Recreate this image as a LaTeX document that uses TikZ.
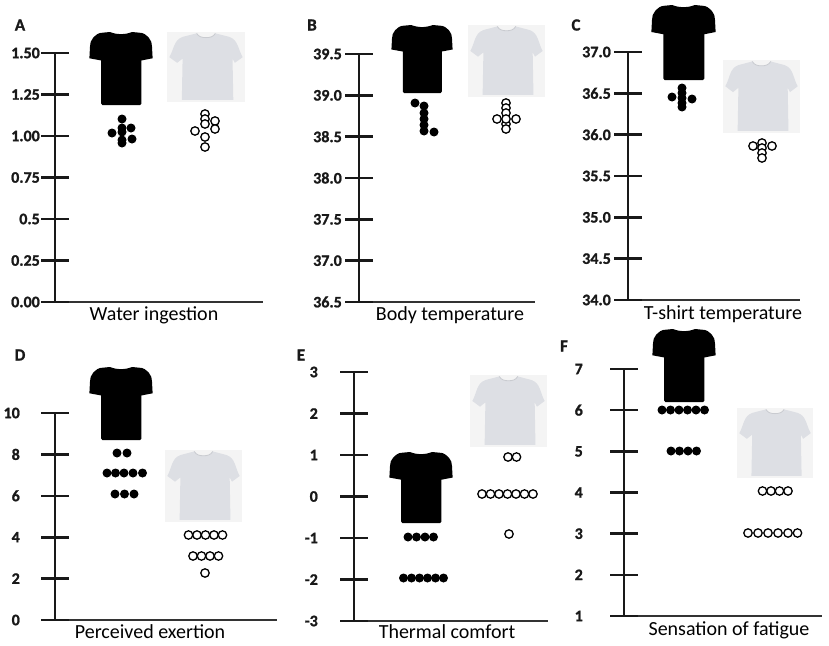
\documentclass[tikz,border=0pt]{standalone}
\usepackage{fontspec}
\setmainfont{Carlito}
\newfontfamily\heavyfont{Carlito}[UprightFont={* Bold},FakeBold=1.2]
\usepackage{tikz}
\usetikzlibrary{positioning}
\definecolor{shirtgrey}{HTML}{DDDFE4}
\definecolor{photobg}{HTML}{F4F4F4}
\definecolor{collar}{HTML}{C9CBD0}
\tikzset{axis line/.style={line width=2.6pt,black!90},
  base line/.style={line width=1.4pt,black!80},
  tick label/.style={font=\fontsize{16}{16}\heavyfont,anchor=east,inner sep=0pt,text=black!90},
  panel letter/.style={font=\fontsize{17}{17}\heavyfont,inner sep=0pt,text=black!90},
  axis title/.style={font=\fontsize{20}{20}\selectfont,inner sep=0pt},
  full dot/.style={fill=black},
  open dot/.style={draw=black,fill=white,line width=1.3pt},}

% #1 axis x, #2 top, #3 bottom, #4 tick step, #5 end of base line, #6 label x, #7 labels, #8 name
\newcommand{\panelaxis}[8]{%
  \draw[axis line] (#1,#2) -- (#1,#3);
  \draw[base line] (#1-14,#3) -- (#5,#3);
  \foreach \lab [count=\i from 0] in {#7} {
    \draw[axis line] (#1-14,#2+\i*#4) -- (#1+14,#2+\i*#4);
    \node[tick label] (#8-\i) at (#6,#2+\i*#4) {\lab};
  }}

% black shirt in box x, y, width, height
\newcommand{\blackshirt}[4]{%
  \begin{scope}[shift={(#1,#2)},x=#3pt,y=-#4pt]
    \fill[black] (0.32,0) to[out=-20,in=-160] (0.68,0) -- (0.8,0.01) to[out=0,in=135] (0.95,0.08)
      to[out=-45,in=95] (1,0.2) -- (1.01,0.36) -- (0.83,0.39) -- (0.83,0.98) to[out=-90,in=0] (0.81,1)
      -- (0.2,1) to[out=180,in=-90] (0.18,0.98) -- (0.18,0.39) -- (-0.01,0.36) -- (0,0.2)
      to[out=85,in=-135] (0.05,0.08) to[out=45,in=180] (0.2,0.01) -- (0.32,0) -- cycle;
  \end{scope}}

% white shirt photo in box x, y, width, height
\newcommand{\whiteshirt}[4]{%
  \begin{scope}[shift={(#1,#2)},x=#3pt,y=-#4pt]
    \fill[photobg] (0,0) rectangle (1,1);
    \fill[shirtgrey] (0.38,0.02) to[out=-60,in=180] (0.5,0.08) to[out=0,in=-120] (0.62,0.02)
      -- (0.8,0.07) to[out=-20,in=120] (0.97,0.36) -- (0.87,0.44) -- (0.84,0.38) -- (0.85,0.97) -- (0.19,0.97)
      -- (0.2,0.38) -- (0.13,0.44) -- (0.03,0.36) to[out=60,in=-160] (0.2,0.07) -- cycle;
    \draw[collar,line width=0.8pt] (0.38,0.02) to[out=-60,in=180] (0.5,0.08) to[out=0,in=-120] (0.62,0.02);
  \end{scope}}

\begin{document}
\begin{tikzpicture}[x=1pt,y=-1pt]
\useasboundingbox (0,0) rectangle (829,645);

% A
\node[panel letter] (lA) at (20,25) {A};
\panelaxis{55}{53}{302}{41.5}{263}{40}{1.50,1.25,1.00,0.75,0.5,0.25,0.00}{tA}
\node[axis title] (xA) at (154,315) {Water ingestion};
\blackshirt{90}{32}{62}{73}
\whiteshirt{167}{32}{78}{70}
\foreach \y in {119,128,132,140,143} \fill[full dot] (122,\y) circle[radius=4.5pt];
\fill[full dot] (112,133) circle[radius=4.5pt] (131,128) circle[radius=4.5pt] (132,139) circle[radius=4.5pt];
\foreach \p in {(205,114),(205,119),(215,121),(205,124),(195,131),(215,129),(205,137),(205,147)}
  \draw[open dot] \p circle[radius=4.2pt];

% B
\node[panel letter] (lB) at (312,25) {B};
\panelaxis{359}{54}{302}{41.33}{535}{342}{39.5,39.0,38.5,38.0,37.5,37.0,36.5}{tB}
\node[axis title] (xB) at (450,315) {Body temperature};
\blackshirt{392}{25}{60}{68}
\whiteshirt{468}{25}{77}{72}
\foreach \y in {106,113,119,125,131} \fill[full dot] (424,\y) circle[radius=4.5pt];
\fill[full dot] (415,103) circle[radius=4.5pt] (434,132) circle[radius=4.5pt];
\foreach \p in {(506,103),(506,108),(506,113),(506,124),(506,129),(497,119),(516,119),(506,119)}
  \draw[open dot] \p circle[radius=4.2pt];

% C
\node[panel letter] (lC) at (576,25) {C};
\panelaxis{628}{52}{300}{41.33}{800}{611}{37.0,36.5,36.0,35.5,35.0,34.5,34.0}{tC}
\node[axis title] (xC) at (723,314) {T-shirt temperature};
\blackshirt{652}{5}{63}{75}
\whiteshirt{723}{60}{77}{73}
\foreach \y in {88,93,98,103,107} \fill[full dot] (682,\y) circle[radius=4.5pt];
\fill[full dot] (672,97) circle[radius=4.5pt] (692,99) circle[radius=4.5pt];
\foreach \p in {(762,143),(762,148),(762,153),(762,158),(753,146),(772,146)}
  \draw[open dot] \p circle[radius=4.2pt];

% D
\node[panel letter] (lD) at (20,355) {D};
\panelaxis{55}{413}{620}{41.4}{277}{20}{10,8,6,4,2,0}{tD}
\node[axis title] (xD) at (150,632) {Perceived exertion};
\blackshirt{90}{367}{62}{73}
\whiteshirt{165}{450}{77}{72}
\foreach \x in {117,127} \fill[full dot] (\x,453) circle[radius=4.5pt];
\foreach \x in {107,115.5,124,133,142.5} \fill[full dot] (\x,473) circle[radius=4.5pt];
\foreach \x in {115,124.5,134} \fill[full dot] (\x,494) circle[radius=4.5pt];
\foreach \x in {188.5,197,205.5,214,222.5} \draw[open dot] (\x,535) circle[radius=4.2pt];
\foreach \x in {193,201.5,210,218.5} \draw[open dot] (\x,556) circle[radius=4.2pt];
\draw[open dot] (205,573) circle[radius=4.2pt];

% E
\node[panel letter] (lE) at (301,355) {E};
\panelaxis{354}{372}{621}{41.5}{548}{318}{3,2,1,0,-1,-2,-3}{tE}
\node[axis title] (xE) at (447,632) {Thermal comfort};
\blackshirt{390}{452}{62}{71}
\whiteshirt{470}{375}{77}{72}
\foreach \x in {408,416.5,425,433.5} \fill[full dot] (\x,537) circle[radius=4.5pt];
\foreach \x in {403.5,411.5,419.5,427.5,435.5,443.5} \fill[full dot] (\x,578) circle[radius=4.5pt];
\foreach \x in {508,516.5} \draw[open dot] (\x,457) circle[radius=4.2pt];
\foreach \x in {482,490.5,499,507.5,516,524.5,533} \draw[open dot] (\x,494) circle[radius=4.2pt];
\draw[open dot] (509,534) circle[radius=4.2pt];

% F
\node[panel letter] (lF) at (564,346) {F};
\panelaxis{624}{369}{616}{41.17}{822}{583}{7,6,5,4,3,2,1}{tF}
\node[axis title] (xF) at (729,630) {Sensation of fatigue};
\blackshirt{653}{329}{62}{73}
\whiteshirt{737}{408}{76}{70}
\foreach \x in {662,670.5,679,687.5,696,704.5} \fill[full dot] (\x,410) circle[radius=4.5pt];
\foreach \x in {671,679.5,688,696.5} \fill[full dot] (\x,451) circle[radius=4.5pt];
\foreach \x in {762.5,771,779.5,788} \draw[open dot] (\x,491) circle[radius=4.2pt];
\foreach \x in {748,758,768,778,788,797.5} \draw[open dot] (\x,533) circle[radius=4.2pt];
\end{tikzpicture}
\end{document}
